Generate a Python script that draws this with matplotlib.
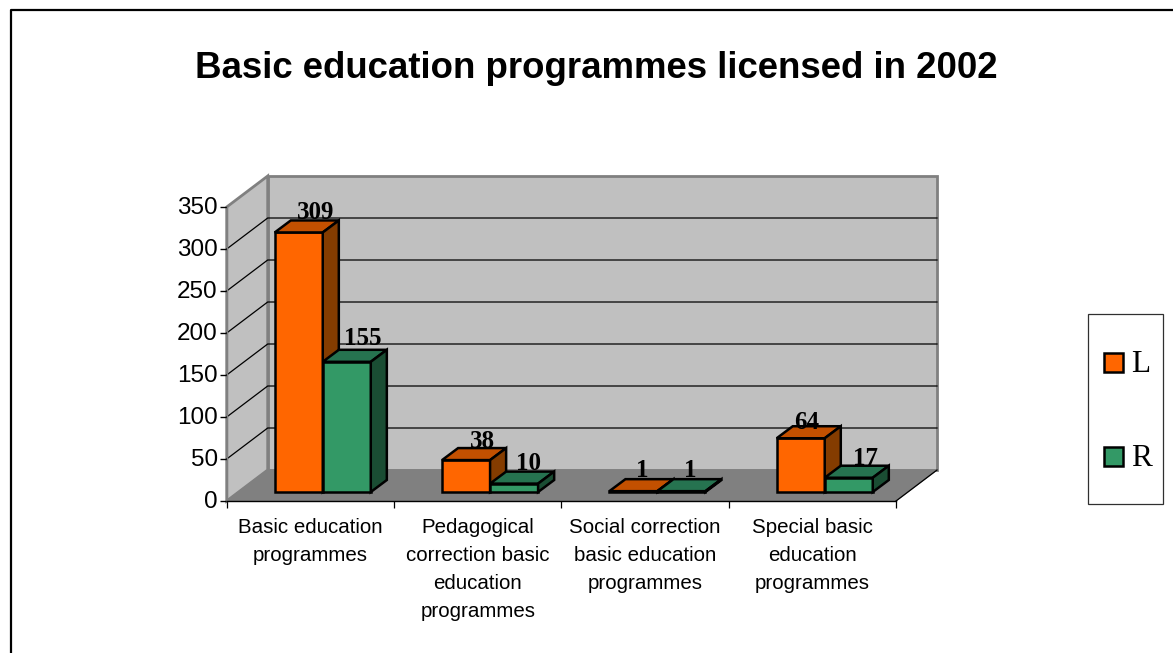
"""Clustered pseudo-3D column chart of licensed basic education programmes."""

import matplotlib
matplotlib.use("Agg")
import matplotlib.pyplot as plt
from matplotlib.transforms import ScaledTranslation

categories = [
    "Basic education\nprogrammes",
    "Pedagogical\ncorrection basic\neducation\nprogrammes",
    "Social correction\nbasic education\nprogrammes",
    "Special basic\neducation\nprogrammes",
]
values_l = [309, 38, 1, 64]
values_r = [155, 10, 1, 17]
y_ticks = [0, 50, 100, 150, 200, 250, 300, 350]
series_names = ["L", "R"]

W, H = 1173, 653
SANS = "Liberation Sans"
SERIF = "Liberation Serif"

# projection of the chart box, in axis units
WALL_DX, WALL_DY = 0.245, 36.9
BAR_DX, BAR_DY = 0.096, 14.3
BAR_LEFT, BAR_W, BAR_BASE = 0.287, 0.287, 10.7

ORANGE = ("#FF6600", "#C35000", "#843C00")
GREEN = ("#339966", "#267350", "#1A4D33")

# hand placement of value labels, pixels right/up from the default spot
NUDGE_L = [(1, -1), (0, -2), (-7, 0), (-10, -5)]
NUDGE_R = [(0, 3), (-2, 0), (-7, 0), (1, -1)]


def box(ax, x, value, colors, nudge):
    """Draw one column as front, top and side faces."""
    x1 = x + BAR_W
    y0, y1 = BAR_BASE, BAR_BASE + value
    style = dict(edgecolor="black", linewidth=1.8, joinstyle="miter", clip_on=False, zorder=4)
    ax.fill([x, x1, x1, x], [y0, y0, y1, y1], facecolor=colors[0], **style)
    ax.fill([x, x1, x1 + BAR_DX, x + BAR_DX], [y1, y1, y1 + BAR_DY, y1 + BAR_DY],
            facecolor=colors[1], **style)
    ax.fill([x1, x1 + BAR_DX, x1 + BAR_DX, x1],
            [y0, y0 + BAR_DY, y1 + BAR_DY, y1], facecolor=colors[2], **style)
    ax.annotate(str(value), (x + BAR_W / 2 + BAR_DX, y1 + BAR_DY - 3.5), xytext=nudge,
                textcoords="offset pixels", ha="center", va="bottom", family=SERIF,
                fontweight="bold", fontsize=18, color="black", zorder=6, linespacing=1.0,
                annotation_clip=False)


fig = plt.figure(figsize=(W / 100, H / 100), dpi=100, facecolor="white")

# outer frame runs off the right and bottom edges
frame = fig.add_axes([0, 0, 1, 1], facecolor="none")
frame.set_xlim(0, W)
frame.set_ylim(H, 0)
frame.axis("off")
frame.plot([11, 11, W + 5], [H + 5, 10, 10], color="black", linewidth=1.6, clip_on=False)

ax = fig.add_axes([226.7 / W, (H - 501) / H, (896 - 226.7) / W, 294 / H], facecolor="none")
ax.set_xlim(0, 4)
ax.set_ylim(0, 350)

# walls and floor
ax.fill([WALL_DX, 4 + WALL_DX, 4 + WALL_DX, WALL_DX],
        [WALL_DY, WALL_DY, 350 + WALL_DY, 350 + WALL_DY],
        facecolor="#C0C0C0", edgecolor="#808080", linewidth=2.0, clip_on=False, zorder=1)
ax.fill([0, WALL_DX, WALL_DX, 0], [0, WALL_DY, 350 + WALL_DY, 350],
        facecolor="#C0C0C0", edgecolor="#808080", linewidth=2.0, clip_on=False, zorder=1)
ax.fill([0, 4, 4 + WALL_DX, WALL_DX], [0, 0, WALL_DY, WALL_DY],
        facecolor="#808080", edgecolor="#808080", linewidth=0.8, clip_on=False, zorder=2)
ax.plot([4, 4 + WALL_DX], [0, WALL_DY], color="black", linewidth=0.9, clip_on=False, zorder=3)

# gridlines across the back and side walls
for t in y_ticks[1:-1]:
    ax.plot([0, WALL_DX, 4 + WALL_DX], [t, t + WALL_DY, t + WALL_DY],
            color="black", linewidth=0.9, clip_on=False, zorder=3)

for i, (left, right) in enumerate(zip(values_l, values_r)):
    box(ax, i + BAR_LEFT, left, ORANGE, NUDGE_L[i])
    box(ax, i + BAR_LEFT + BAR_W, right, GREEN, NUDGE_R[i])

for side in ("top", "right"):
    ax.spines[side].set_visible(False)
for side in ("left", "bottom"):
    ax.spines[side].set_linewidth(1.0)
    ax.spines[side].set_zorder(5)
ax.spines["left"].set_color("#808080")

ax.set_yticks(y_ticks)
ax.set_yticklabels([str(t) for t in y_ticks], family=SANS, fontsize=17.5)
ax.tick_params(axis="y", length=5, width=1.0, pad=1.5)
# value labels sit slightly above their tick marks
nudge = ScaledTranslation(0, 2 / 100, fig.dpi_scale_trans)
for label in ax.get_yticklabels():
    label.set_transform(label.get_transform() + nudge)
ax.set_xticks(range(5))
ax.set_xticklabels([])
ax.tick_params(axis="x", which="major", length=5, width=0.9)
ax.set_xticks([i + 0.5 for i in range(4)], minor=True)
ax.set_xticklabels(categories, minor=True, family=SANS, fontsize=14.8, linespacing=1.61)
ax.tick_params(axis="x", which="minor", length=0, pad=12)

fig.text(596 / W, 1 - 69 / H, "Basic education programmes licensed in 2002", ha="center",
         va="center", family=SANS, fontweight="bold", fontsize=26.4)

# legend drawn on the page layer
frame.fill([1088, 1162.5, 1162.5, 1088], [314, 314, 503.5, 503.5],
           facecolor="white", edgecolor="#303030", linewidth=0.9)
for name, color, y in zip(series_names, (ORANGE[0], GREEN[0]), (362, 456)):
    frame.fill([1104, 1123, 1123, 1104], [y - 9.5, y - 9.5, y + 9.5, y + 9.5],
               facecolor=color, edgecolor="black", linewidth=1.8)
    frame.text(1131.5, y + 10, name, family=SERIF, fontsize=22.5, ha="left", va="baseline")

fig.savefig("out.png", dpi=100)
plt.close(fig)
